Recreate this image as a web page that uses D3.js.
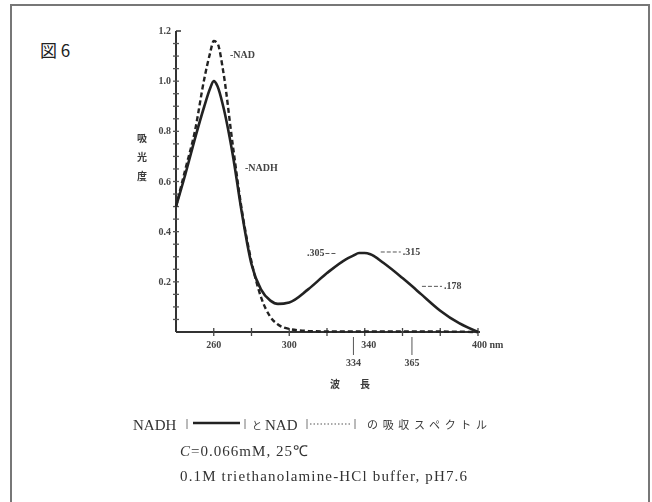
<!DOCTYPE html>
<html>
<head>
<meta charset="utf-8">
<script src="https://cdn.jsdelivr.net/npm/d3@7"></script>
<style>
	body { margin: 0; background: #fff; }
	svg text { fill: #333; }
	.tick-label { font-family: "Liberation Serif", serif; font-weight: bold; font-size: 10px; fill: #444; }
	.cap { font-family: "Liberation Serif", serif; font-size: 15px; fill: #333; }
	.jp { font-family: "Noto Sans CJK JP", sans-serif; fill: #3a3a3a; }
</style>
</head>
<body>
<svg id="chart"></svg>
<script>
// wavelengths (nm) and absorbance
var wavelengths = [240, 245, 250, 255, 258, 260, 262, 265, 270, 275, 280, 285, 290, 294, 300, 310, 320, 330, 334, 337, 340, 343, 350, 360, 365, 370, 380, 390, 400];
var nadh = [0.50, 0.63, 0.77, 0.90, 0.97, 1.00, 0.98, 0.90, 0.71, 0.47, 0.27, 0.17, 0.125, 0.112, 0.118, 0.17, 0.235, 0.29, 0.305, 0.315, 0.315, 0.31, 0.275, 0.215, 0.183, 0.15, 0.085, 0.035, 0.0];
var nad = [0.50, 0.65, 0.80, 1.01, 1.11, 1.16, 1.15, 1.04, 0.75, 0.48, 0.28, 0.14, 0.06, 0.03, 0.012, 0.004, 0.002, 0.002, 0.002, 0.002, 0.002, 0.002, 0.002, 0.002, 0.002, 0.002, 0.002, 0.001, 0.0];

var yTicks = [0.2, 0.4, 0.6, 0.8, 1.0, 1.2];
var xTickLabels = [260, 300, 340];
var markWavelengths = [334, 365];
var notes = [
	{ nm: 334, v: 0.305, text: ".305", side: "left" },
	{ nm: 340, v: 0.315, text: ".315", side: "right" },
	{ nm: 365, v: 0.178, text: ".178", side: "right" }
];

var width = 652, height = 502;
var svg = d3.select("#chart").attr("width", width).attr("height", height);

var defs = svg.append("defs");
defs.append("filter").attr("id", "soft")
	.append("feGaussianBlur").attr("stdDeviation", 0.45);

// frame
svg.append("path")
	.attr("d", "M11,520 V5 H649 V520")
	.attr("fill", "none")
	.attr("stroke", "#777")
	.attr("stroke-width", 2);

svg.append("text")
	.attr("class", "jp")
	.attr("x", 40).attr("y", 57)
	.attr("font-size", 17)
	.style("fill", "#222")
	.text("図 6");

var x = d3.scaleLinear().domain([240, 400]).range([176, 478]);
var y = d3.scaleLinear().domain([0, 1.2]).range([332, 31]);

var g = svg.append("g").attr("filter", "url(#soft)");

// y axis with minor ticks
g.append("line")
	.attr("x1", x(240)).attr("x2", x(240))
	.attr("y1", y(1.2)).attr("y2", y(0))
	.attr("stroke", "#333").attr("stroke-width", 2);
g.append("line")
	.attr("x1", x(240)).attr("x2", x(240) + 5)
	.attr("y1", y(1.2)).attr("y2", y(1.2))
	.attr("stroke", "#333").attr("stroke-width", 1.5);
g.selectAll(".ymin")
	.data(d3.range(0.05, 1.2, 0.05))
	.enter().append("line")
		.attr("x1", x(240) - 3).attr("x2", x(240) + 3)
		.attr("y1", function(d){ return y(d); })
		.attr("y2", function(d){ return y(d); })
		.attr("stroke", "#555").attr("stroke-width", 1.3);
g.selectAll(".ylab")
	.data(yTicks)
	.enter().append("text")
		.attr("class", "tick-label")
		.attr("x", x(240) - 5)
		.attr("y", function(d){ return y(d) + 3; })
		.attr("text-anchor", "end")
		.text(function(d){ return d.toFixed(1); });

// x axis
g.append("line")
	.attr("x1", x(240)).attr("x2", x(400) + 2)
	.attr("y1", y(0)).attr("y2", y(0))
	.attr("stroke", "#333").attr("stroke-width", 2);
g.selectAll(".xtick")
	.data(d3.range(260, 401, 20))
	.enter().append("line")
		.attr("x1", function(d){ return x(d); })
		.attr("x2", function(d){ return x(d); })
		.attr("y1", y(0) - 4).attr("y2", y(0) + 4)
		.attr("stroke", "#444").attr("stroke-width", 1.3);
g.selectAll(".xlab")
	.data(xTickLabels)
	.enter().append("text")
		.attr("class", "tick-label")
		.attr("x", function(d){ return x(d) + (d == 340 ? 4 : 0); })
		.attr("y", y(0) + 16)
		.attr("text-anchor", "middle")
		.text(function(d){ return d; });
g.append("text")
	.attr("class", "tick-label")
	.attr("x", x(400) - 6).attr("y", y(0) + 16)
	.text("400 nm");

// drop lines for 334 / 365
g.selectAll(".mark")
	.data(markWavelengths)
	.enter().append("line")
		.attr("x1", function(d){ return x(d); })
		.attr("x2", function(d){ return x(d); })
		.attr("y1", y(0) + 5).attr("y2", y(0) + 23)
		.attr("stroke", "#555").attr("stroke-width", 1);
g.selectAll(".marklab")
	.data(markWavelengths)
	.enter().append("text")
		.attr("class", "tick-label")
		.attr("x", function(d){ return x(d); })
		.attr("y", y(0) + 34)
		.attr("text-anchor", "middle")
		.text(function(d){ return d; });

// axis titles
g.selectAll(".ytitle")
	.data(["吸", "光", "度"])
	.enter().append("text")
		.attr("class", "jp")
		.attr("x", 142)
		.attr("y", function(d, i){ return 142 + i * 19; })
		.attr("text-anchor", "middle")
		.attr("font-size", 10)
		.attr("font-weight", "bold")
		.text(function(d){ return d; });
g.append("text")
	.attr("class", "jp")
	.attr("x", 350).attr("y", 388)
	.attr("text-anchor", "middle")
	.attr("font-size", 10)
	.attr("font-weight", "bold")
	.text("波　　長");

// curves
var line = d3.line()
	.x(function(d){ return x(d[0]); })
	.y(function(d){ return y(d[1]); })
	.curve(d3.curveMonotoneX);

g.append("path")
	.datum(wavelengths.map(function(w, i){ return [w, nad[i]]; }))
	.attr("d", line)
	.attr("fill", "none")
	.attr("stroke", "#222")
	.attr("stroke-width", 2.4)
	.attr("stroke-dasharray", "5,3");

g.append("path")
	.datum(wavelengths.map(function(w, i){ return [w, nadh[i]]; }))
	.attr("d", line)
	.attr("fill", "none")
	.attr("stroke", "#222")
	.attr("stroke-width", 2.6);

// curve labels
g.append("text").attr("class", "tick-label")
	.attr("x", 230).attr("y", 58).text("-NAD");
g.append("text").attr("class", "tick-label")
	.attr("x", 245).attr("y", 171).text("-NADH");

// value notes
notes.forEach(function(n){
	var px = x(n.nm), py = y(n.v);
	if (n.side == "left") {
		g.append("line")
			.attr("x1", px - 28).attr("x2", px - 16)
			.attr("y1", py - 2).attr("y2", py - 2)
			.attr("stroke", "#555").attr("stroke-dasharray", "4,2");
		g.append("text").attr("class", "tick-label")
			.attr("x", px - 29).attr("y", py + 1)
			.attr("text-anchor", "end").text(n.text);
	} else {
		var off = n.nm == 340 ? 16 : 10;
		g.append("line")
			.attr("x1", px + off).attr("x2", px + off + 20)
			.attr("y1", py - 1).attr("y2", py - 1)
			.attr("stroke", "#555").attr("stroke-dasharray", "4,2");
		g.append("text").attr("class", "tick-label")
			.attr("x", px + off + 22).attr("y", py + 2).text(n.text);
	}
});

// caption
var cap = svg.append("g").attr("filter", "url(#soft)");
cap.append("text").attr("class", "cap")
	.attr("x", 133).attr("y", 430).attr("font-size", 16).text("NADH");
cap.append("line").attr("x1", 187).attr("x2", 187).attr("y1", 419).attr("y2", 429).attr("stroke", "#777");
cap.append("line").attr("x1", 193).attr("x2", 240).attr("y1", 423).attr("y2", 423).attr("stroke", "#222").attr("stroke-width", 2.5);
cap.append("line").attr("x1", 245).attr("x2", 245).attr("y1", 419).attr("y2", 429).attr("stroke", "#777");
cap.append("text").attr("class", "jp")
	.attr("x", 252).attr("y", 429).attr("font-size", 10).text("と");
cap.append("text").attr("class", "cap")
	.attr("x", 265).attr("y", 430).attr("font-size", 16).text("NAD");
cap.append("line").attr("x1", 307).attr("x2", 307).attr("y1", 419).attr("y2", 429).attr("stroke", "#777");
cap.append("line").attr("x1", 310).attr("x2", 351).attr("y1", 424).attr("y2", 424).attr("stroke", "#555").attr("stroke-width", 1).attr("stroke-dasharray", "1.5,2");
cap.append("line").attr("x1", 355).attr("x2", 355).attr("y1", 419).attr("y2", 429).attr("stroke", "#777");
cap.append("text").attr("class", "jp")
	.attr("x", 367).attr("y", 429).attr("font-size", 11).attr("textLength", 120).text("の吸収スペクトル");

var line2 = cap.append("text").attr("class", "cap")
	.attr("x", 180).attr("y", 456).attr("textLength", 128);
line2.append("tspan").attr("font-style", "italic").text("C");
line2.append("tspan").text("=0.066mM,  25℃");

cap.append("text").attr("class", "cap")
	.attr("x", 180).attr("y", 481).attr("textLength", 287)
	.text("0.1M triethanolamine-HCl buffer, pH7.6");
</script>
</body>
</html>
